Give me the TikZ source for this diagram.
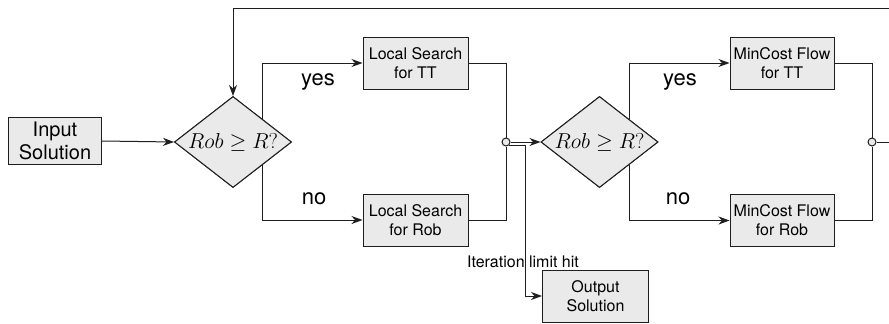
\documentclass[tikz,border=0pt]{standalone}
\usepackage{graphicx}
\usepackage{fontspec}
\setmainfont{TeX Gyre Heros}
\usetikzlibrary{arrows.meta,shapes.geometric}
\definecolor{boxfill}{RGB}{234,234,234}
\definecolor{edge}{RGB}{30,30,30}
\newcommand{\robtest}{\makebox[0pt]{\scalebox{1.04}{$Rob \geq R?$}}}
\begin{document}
\begin{tikzpicture}[x=1pt,y=-1pt,
  line width=1pt,
  flow/.style={draw=edge,-{Stealth[length=11pt,width=8pt,inset=3.5pt]}},
  link/.style={draw=edge},
  procbox/.style={rectangle,draw=edge,fill=boxfill,minimum width=105pt,minimum height=52pt,
    inner sep=0pt,align=center,font=\fontsize{16}{19}\selectfont},
  decide/.style={diamond,draw=edge,fill=boxfill,minimum width=117pt,minimum height=91pt,
    inner sep=0pt,font=\fontsize{21}{24}\selectfont},
  junction/.style={circle,draw=edge,fill=boxfill,minimum size=8pt,inner sep=0pt},
  branchlbl/.style={font=\fontsize{22}{26}\selectfont,inner sep=0pt},
  notelbl/.style={font=\fontsize{16}{19}\selectfont,inner sep=0pt}]
\useasboundingbox (0,0) rectangle (889,324);

% process boxes
\node[procbox,minimum width=93pt,minimum height=47pt,font=\fontsize{20}{23}\selectfont]
  (in) at (55,141) {Input\\Solution};
\node[procbox] (ls1) at (415.5,63) {Local Search\\for TT};
\node[procbox] (ls2) at (415.5,220) {Local Search\\for Rob};
\node[procbox,minimum width=104pt] (mc1) at (782,63) {MinCost Flow\\for TT};
\node[procbox,minimum width=104pt] (mc2) at (782,220.5) {MinCost Flow\\for Rob};
\node[procbox,minimum width=106pt] (out) at (595.5,296) {Output\\Solution};

% decisions and junctions
\node[decide] (d1) at (233,142) {};
\node[decide] (d2) at (599.5,142) {};
\node[junction] (j1) at (506,142) {};
\node[junction] (j2) at (872,142) {};

% free ends at the right border and the output branch corner
\coordinate (topR) at (889,8);
\coordinate (rE) at (889,142);
\coordinate (br) at (525,0);

% branch labels
\node[branchlbl] (yes1) at (318,82) {yes};
\node[branchlbl] (no1) at (314,199) {no};
\node[branchlbl] (yes2) at (680,82) {yes};
\node[branchlbl] (no2) at (678,199) {no};
\node[notelbl] (lim) at (523,262) {Iteration limit hit};

% connectors
\draw[flow] (in.east) -- (d1.west);
\draw[flow] (topR) -| (d1.north);
\draw[flow] (d1.north east) |- (ls1.west);
\draw[flow] (d1.south east) |- (ls2.west);
\draw[link] (ls1.east) -| (j1.north);
\draw[link] (ls2.east) -| (j1.south);
\draw[flow] (j1.east) -- (d2.west);
\draw[flow] (j1.south east) -| (br |- out.west) -- (out.west);
\draw[flow] (d2.north east) |- (mc1.west);
\draw[flow] (d2.south east) |- (mc2.west);
\draw[link] (mc1.east) -| (j2.north);
\draw[link] (mc2.east) -| (j2.south);
\draw[link] (j2.east) -- (rE);

% decision shapes drawn over the branch lines, with their tests
\node[decide] at (d1) {\robtest};
\node[decide] at (d2) {\robtest};
\end{tikzpicture}
\end{document}
